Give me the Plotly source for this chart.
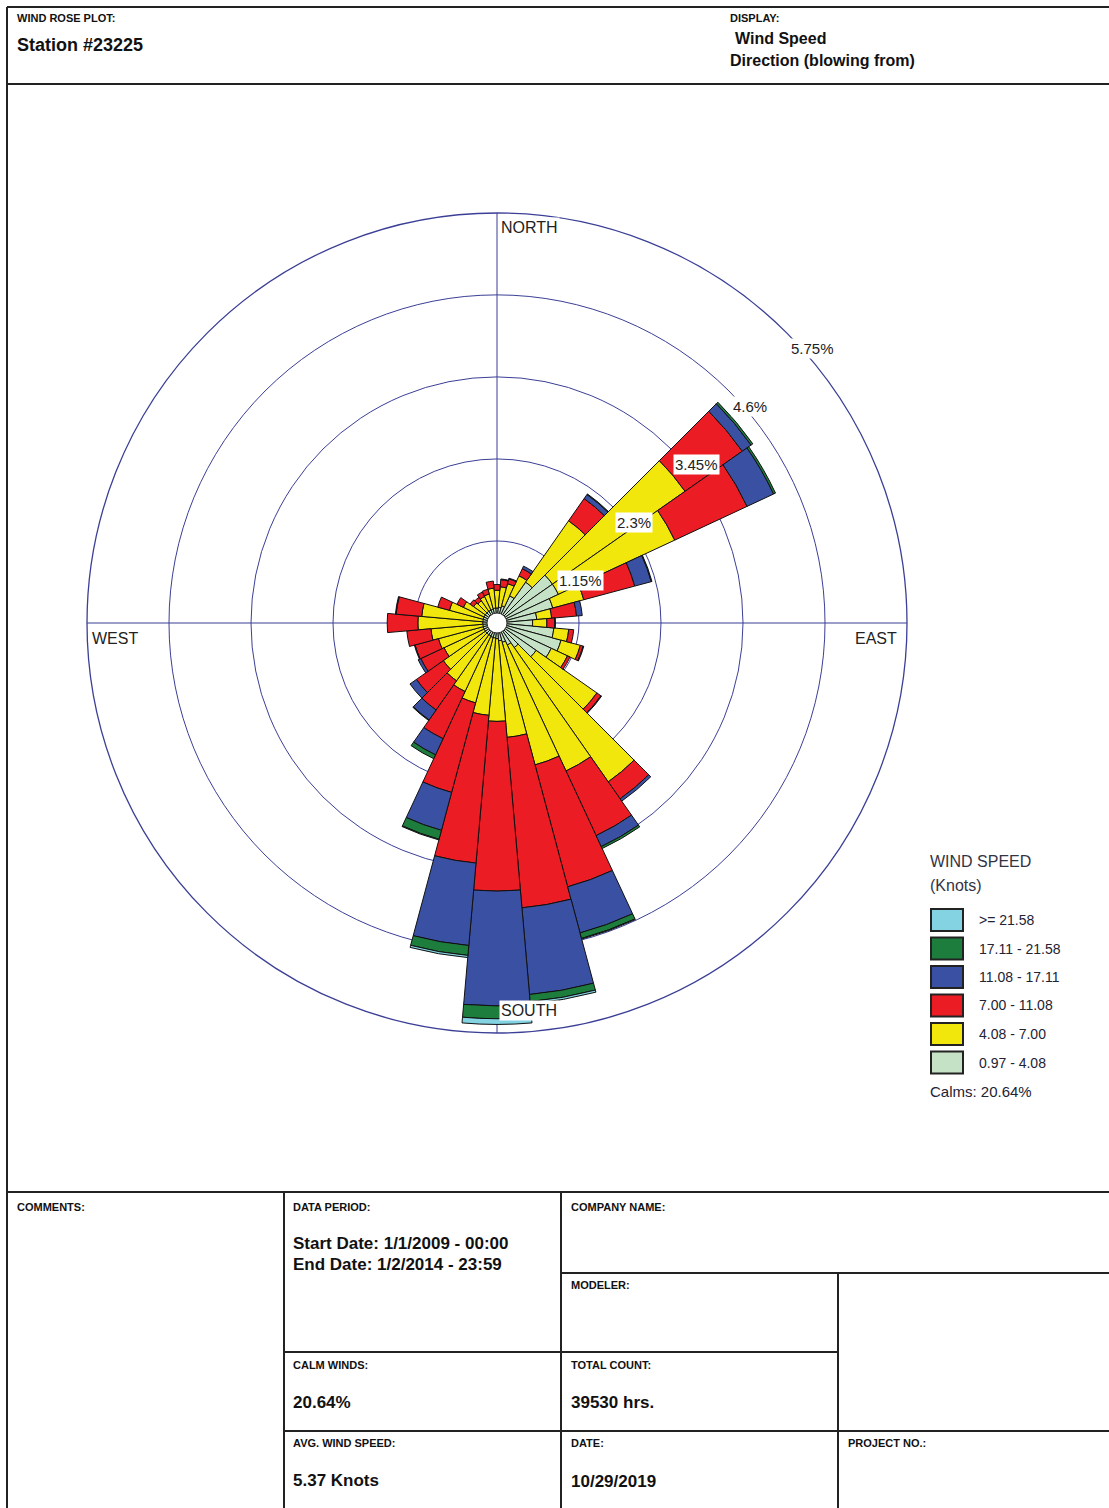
import plotly.graph_objects as go

W, H = 1109, 1508

# ---------------- data (percent frequency per direction and speed class) ----------------
directions = [0, 10, 20, 30, 40, 50, 60, 70, 80, 90, 100, 110, 120, 130, 140, 150, 160, 170,
              180, 190, 200, 210, 220, 230, 240, 250, 260, 270, 280, 290, 300, 310, 320, 330, 340, 350]

spd_097_408 = [0.21, 0.22, 0.25, 0.42, 0.70, 0.95, 0.95, 0.81, 0.56, 0.50, 0.80, 0.93, 0.84, 0.67, 0.42, 0.34, 0.28, 0.25,
               0.22, 0.21, 0.21, 0.20, 0.20, 0.20, 0.20, 0.20, 0.20, 0.20, 0.20, 0.20, 0.20, 0.20, 0.20, 0.20, 0.20, 0.21]
spd_408_700 = [0.25, 0.29, 0.32, 0.31, 1.05, 2.27, 1.80, 0.45, 0.21, 0.20, 0.21, 0.28, 0.25, 1.04, 2.30, 1.95, 1.78, 1.36,
               1.16, 1.09, 0.95, 0.86, 0.79, 0.72, 0.62, 0.65, 0.73, 0.91, 0.86, 0.49, 0.32, 0.20, 0.18, 0.21, 0.22, 0.28]
spd_700_1108 = [0.08, 0.10, 0.07, 0.11, 0.38, 0.98, 1.12, 0.74, 0.35, 0.11, 0.07, 0.04, 0.04, 0.07, 0.29, 1.00, 1.77, 2.40,
                2.38, 2.08, 1.30, 0.73, 0.50, 0.46, 0.36, 0.34, 0.34, 0.43, 0.36, 0.17, 0.10, 0.06, 0.06, 0.07, 0.07, 0.10]
spd_1108_1711 = [0.00, 0.01, 0.01, 0.04, 0.07, 0.15, 0.41, 0.24, 0.08, 0.01, 0.00, 0.01, 0.00, 0.01, 0.04, 0.17, 0.67, 1.22,
                 1.61, 1.16, 0.55, 0.25, 0.17, 0.11, 0.04, 0.01, 0.00, 0.00, 0.01, 0.00, 0.00, 0.00, 0.00, 0.00, 0.00, 0.00]
spd_1711_2158 = [0.00, 0.00, 0.00, 0.00, 0.01, 0.03, 0.03, 0.01, 0.00, 0.00, 0.00, 0.00, 0.00, 0.00, 0.00, 0.03, 0.08, 0.10,
                 0.18, 0.14, 0.13, 0.06, 0.01, 0.00, 0.00, 0.00, 0.00, 0.00, 0.00, 0.00, 0.00, 0.00, 0.00, 0.00, 0.00, 0.00]
spd_2158_up = [0.00, 0.00, 0.00, 0.00, 0.00, 0.00, 0.00, 0.00, 0.00, 0.00, 0.00, 0.00, 0.00, 0.00, 0.00, 0.00, 0.01, 0.03,
               0.08, 0.03, 0.01, 0.00, 0.00, 0.00, 0.00, 0.00, 0.00, 0.00, 0.00, 0.00, 0.00, 0.00, 0.00, 0.00, 0.00, 0.00]

speed_labels = ["0.97 - 4.08", "4.08 - 7.00", "7.00 - 11.08", "11.08 - 17.11", "17.11 - 21.58", ">= 21.58"]
speed_series = [spd_097_408, spd_408_700, spd_700_1108, spd_1108_1711, spd_1711_2158, spd_2158_up]
speed_colors = ["#c6e2c6", "#f2e70c", "#ec1c24", "#3a51a3", "#1d7d3c", "#84d3e2"]

ring_values = [1.15, 2.3, 3.45, 4.6, 5.75]
ring_labels = ["1.15%", "2.3%", "3.45%", "4.6%", "5.75%"]
compass_labels = ["NORTH", "EAST", "SOUTH", "WEST"]

calms_text = "Calms: 20.64%"

# ---------------- geometry helpers ----------------
CX, CY, R = 497, 623, 410
RMAX = ring_values[-1]
NAVY = "#3b3f95"
FONT = "Liberation Sans, Arial, sans-serif"
XS = -2  # small left correction for left-anchored text


def px(x):
    return x / W


def py(y):
    return 1 - y / H


fig = go.Figure()

for lab, vals, col in zip(speed_labels, speed_series, speed_colors):
    fig.add_trace(go.Barpolar(
        r=vals, theta=directions, width=[10] * len(directions), name=lab,
        marker=dict(color=col, line=dict(color="#111111", width=1)),
        showlegend=False, hoverinfo="skip"))

# center hole
fig.add_trace(go.Scatterpolar(r=[0], theta=[0], mode="markers",
                              marker=dict(size=20, color="white", line=dict(color="#333333", width=1)),
                              showlegend=False, hoverinfo="skip", cliponaxis=False))

shapes = []
annotations = []

# ring labels along 45 degrees
for v, t in zip(ring_values, ring_labels):
    rp = v / RMAX * R
    annotations.append(dict(x=px(CX + rp * 0.7071 + 4), y=py(CY - rp * 0.7071 + 15), xref="paper", yref="paper",
                            text=t, showarrow=False, xanchor="left", yanchor="middle", bgcolor="white",
                            borderpad=1, xshift=XS, font=dict(family=FONT, size=15, color="#222222")))

# compass labels
compass_pos = [
    (CX + 4, CY - R + 15, "left"),
    (CX + R - 8, CY + 15, "right"),
    (CX + 4, CY + R - 23, "left"),
    (CX - R + 5, CY + 15, "left"),
]
for t, (x, y, xa) in zip(compass_labels, compass_pos):
    annotations.append(dict(x=px(x), y=py(y), xref="paper", yref="paper", text=t, showarrow=False,
                            xanchor=xa, yanchor="middle", bgcolor="white", borderpad=1,
                            xshift=XS if xa == "left" else 0,
                            font=dict(family=FONT, size=16, color="#222222")))

# legend (custom)
annotations.append(dict(x=px(930), y=py(861), xref="paper", yref="paper", text="WIND SPEED", showarrow=False,
                        xanchor="left", yanchor="middle", xshift=XS, font=dict(family=FONT, size=16, color="#333344")))
annotations.append(dict(x=px(930), y=py(885), xref="paper", yref="paper", text="(Knots)", showarrow=False,
                        xanchor="left", yanchor="middle", xshift=XS, font=dict(family=FONT, size=16, color="#333344")))
legend_y0 = 920
legend_dy = 28.5
for i, (lab, col) in enumerate(zip(reversed(speed_labels), reversed(speed_colors))):
    yc = legend_y0 + i * legend_dy
    shapes.append(dict(type="rect", xref="paper", yref="paper", x0=px(931), x1=px(963), y0=py(yc - 11), y1=py(yc + 11),
                       fillcolor=col, line=dict(color="#222222", width=2)))
    annotations.append(dict(x=px(979), y=py(yc), xref="paper", yref="paper", text=lab, showarrow=False,
                            xanchor="left", yanchor="middle", xshift=XS,
                            font=dict(family=FONT, size=14, color="#222233")))
annotations.append(dict(x=px(930), y=py(1091), xref="paper", yref="paper", text=calms_text, showarrow=False,
                        xanchor="left", yanchor="middle", xshift=XS, font=dict(family=FONT, size=15, color="#222233")))

# frame lines
LINE = dict(color="#222222", width=2)
frame = [
    (7, 7, 1109, 7), (7, 7, 7, 1508), (7, 84, 1109, 84), (7, 1192, 1109, 1192),
    (284, 1192, 284, 1508), (561, 1192, 561, 1508), (561, 1273, 1109, 1273), (838, 1273, 838, 1508),
    (284, 1352, 838, 1352), (284, 1431, 1109, 1431),
]
for x0, y0, x1, y1 in frame:
    shapes.append(dict(type="line", xref="paper", yref="paper", x0=px(x0), y0=py(y0), x1=px(x1), y1=py(y1), line=LINE))

# header / table text
texts = [
    ("WIND ROSE PLOT:", 17, 18, 11),
    ("Station #23225", 17, 45, 18),
    ("DISPLAY:", 730, 18, 11),
    ("Wind Speed", 735, 39, 16),
    ("Direction (blowing from)", 730, 61, 16),
    ("COMMENTS:", 17, 1207, 11),
    ("DATA PERIOD:", 293, 1207, 11),
    ("Start Date: 1/1/2009 - 00:00", 293, 1243, 17),
    ("End Date: 1/2/2014 - 23:59", 293, 1264, 17),
    ("COMPANY NAME:", 571, 1207, 11),
    ("MODELER:", 571, 1285, 11),
    ("CALM WINDS:", 293, 1365, 11),
    ("20.64%", 293, 1402, 17),
    ("TOTAL COUNT:", 571, 1365, 11),
    ("39530 hrs.", 571, 1402, 17),
    ("AVG. WIND SPEED:", 293, 1443, 11),
    ("5.37 Knots", 293, 1480, 17),
    ("DATE:", 571, 1443, 11),
    ("10/29/2019", 571, 1481, 17),
    ("PROJECT NO.:", 848, 1443, 11),
]
for t, x, y, s in texts:
    annotations.append(dict(x=px(x), y=py(y), xref="paper", yref="paper", text="<b>" + t + "</b>", showarrow=False,
                            xanchor="left", yanchor="middle", xshift=XS,
                            font=dict(family=FONT, size=s, color="#111111")))

fig.update_layout(
    width=W, height=H, margin=dict(l=0, r=0, t=0, b=0),
    paper_bgcolor="white", plot_bgcolor="white",
    showlegend=False,
    polar=dict(
        domain=dict(x=[px(CX - R), px(CX + R)], y=[py(CY + R), py(CY - R)]),
        bgcolor="white",
        barmode="stack", bargap=0,
        radialaxis=dict(range=[0, RMAX], tickvals=ring_values, showticklabels=False, ticks="",
                        showline=False, gridcolor=NAVY, gridwidth=1.3),
        angularaxis=dict(rotation=90, direction="clockwise", tickvals=[0, 90, 180, 270],
                         showticklabels=False, ticks="", gridcolor=NAVY, gridwidth=1.3,
                         showline=True, linecolor=NAVY, linewidth=1.3),
    ),
    shapes=shapes,
    annotations=annotations,
)

fig.write_html("out.html", config={"displayModeBar": False},
               post_script="document.body.style.margin='0px';")
